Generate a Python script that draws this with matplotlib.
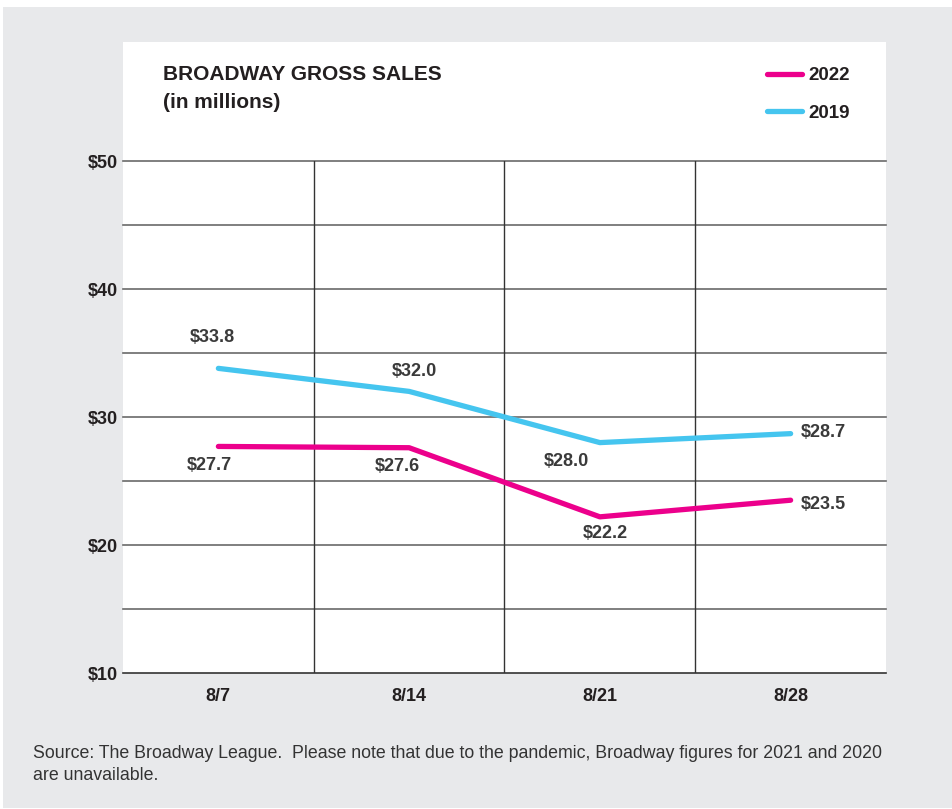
import matplotlib
matplotlib.use("Agg")
import matplotlib.pyplot as plt
from matplotlib.patches import Rectangle
from matplotlib import font_manager

# ---------------- data ----------------
weeks = ["8/7", "8/14", "8/21", "8/28"]
sales_2022 = [27.7, 27.6, 22.2, 23.5]
sales_2019 = [33.8, 32.0, 28.0, 28.7]
y_ticks = [10, 20, 30, 40, 50]
grid_levels = [10, 15, 20, 25, 30, 35, 40, 45, 50]

# ---------------- style ----------------
BG = "#e8e9eb"
PANEL = "#ffffff"
PINK = "#ec008c"
CYAN = "#45c5ef"
TXT = "#231f20"
LBL = "#3a3a3a"
HGRID = "#6a6a6a"
VGRID = "#333333"

names = {f.name for f in font_manager.fontManager.ttflist}
BOLD_FONT = "Liberation Sans Narrow" if "Liberation Sans Narrow" in names else "Liberation Sans"
REG_FONT = "Liberation Sans"
NUM_SIZE = 13

W, H = 953, 809
fig = plt.figure(figsize=(W / 100, H / 100), dpi=100)
fig.patch.set_facecolor("white")


def fx(px):
    return px / W


def fy(py):
    return 1 - py / H


# gray card and white panel
fig.patches.append(Rectangle((fx(3), fy(808)), fx(950), (808 - 7) / H,
                             transform=fig.transFigure, facecolor=BG,
                             edgecolor="none", zorder=-2))
fig.patches.append(Rectangle((fx(123), fy(673)), fx(763), (673 - 42) / H,
                             transform=fig.transFigure, facecolor=PANEL,
                             edgecolor="none", zorder=-1))

ax = fig.add_axes([fx(123), fy(673), fx(763), (673 - 161) / H])
ax.set_zorder(2)
ax.set_facecolor("none")
ax.set_xlim(-0.5, len(weeks) - 0.5)
ax.set_ylim(10, 50)
for s in ax.spines.values():
    s.set_visible(False)

# grid
for lv in grid_levels:
    ax.axhline(lv, color=VGRID if lv == 10 else HGRID, lw=1.2, zorder=1,
               clip_on=False)
for i in range(1, len(weeks)):
    ax.axvline(i - 0.5, color=VGRID, lw=1.0, zorder=1)

x = list(range(len(weeks)))
l22, = ax.plot(x, sales_2022, color=PINK, lw=3.8, solid_capstyle="round",
               solid_joinstyle="round", zorder=3, label="2022")
l19, = ax.plot(x, sales_2019, color=CYAN, lw=3.8, solid_capstyle="round",
               solid_joinstyle="round", zorder=3, label="2019")

# ticks
ax.set_yticks(y_ticks)
ax.set_yticklabels([f"${v}" for v in y_ticks])
ax.set_xticks(x)
ax.set_xticklabels(weeks)
ax.tick_params(length=0, colors=TXT)
ax.tick_params(axis="y", pad=4)
ax.tick_params(axis="x", pad=11)
for t in ax.get_xticklabels() + ax.get_yticklabels():
    t.set_fontfamily(BOLD_FONT)
    t.set_fontweight("bold")
    t.set_fontsize(NUM_SIZE)

# value labels (offsets in pixels)
off_2019 = [(-6, 31, "center"), (5, 20, "center"), (-33, -19, "center"), (10, 1, "left")]
off_2022 = [(-9, -19, "center"), (-12, -19, "center"), (5, -17, "center"), (10, -4, "left")]
for vals, offs in ((sales_2019, off_2019), (sales_2022, off_2022)):
    for i, (v, (dx, dy, ha)) in enumerate(zip(vals, offs)):
        ax.annotate(f"${v:.1f}", xy=(i, v), xytext=(dx, dy),
                    textcoords="offset pixels", ha=ha, va="center",
                    fontsize=NUM_SIZE, fontweight="bold", family=BOLD_FONT,
                    color=LBL, zorder=4)

# title
fig.text(fx(163), fy(74), "BROADWAY GROSS SALES", ha="left", va="center",
         fontsize=15, fontweight="bold", family=BOLD_FONT, color=TXT)
fig.text(fx(163), fy(103), "(in millions)", ha="left", va="center",
         fontsize=15, fontweight="bold", family=BOLD_FONT, color=TXT)

# legend
leg = fig.legend(handles=[l22, l19], loc="upper left",
                 bbox_to_anchor=(fx(767), fy(67)), frameon=False,
                 prop={"family": BOLD_FONT, "weight": "bold", "size": 13.5},
                 handlelength=1.85, handletextpad=0.35, labelspacing=1.1,
                 borderpad=0, borderaxespad=0)
for t in leg.get_texts():
    t.set_color(TXT)

# footnote
fig.text(fx(33), fy(753), "Source: The Broadway League.  Please note that due to the pandemic, "
         "Broadway figures for 2021 and 2020", ha="left", va="center",
         fontsize=12.75, family=REG_FONT, color="#333333")
fig.text(fx(33), fy(775), "are unavailable.", ha="left", va="center",
         fontsize=12.75, family=REG_FONT, color="#333333")

fig.savefig("out.png", dpi=100, facecolor=fig.get_facecolor())
